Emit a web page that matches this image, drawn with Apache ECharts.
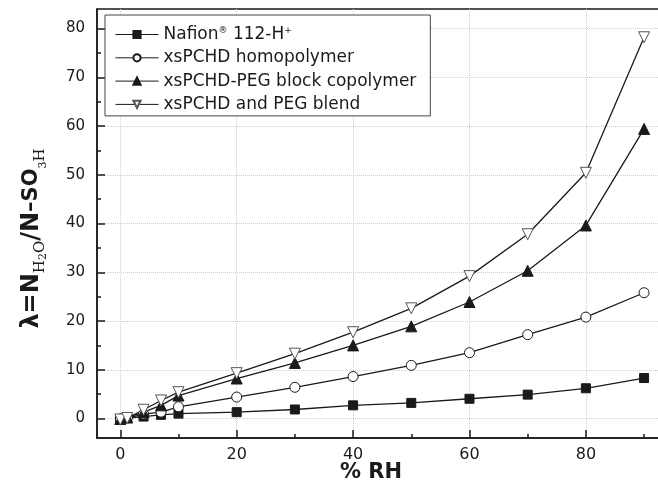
<!DOCTYPE html>
<html><head><meta charset="utf-8">
<script src="https://cdn.jsdelivr.net/npm/echarts@6/dist/echarts.min.js"></script>
<style>html,body{margin:0;padding:0;background:#fff}#c{width:658px;height:492px}</style>
</head><body><div id="c"></div>
<script>
const rh = [0, 1.2, 4, 7, 10, 20, 30, 40, 50, 60, 70, 80, 90];
const nafion = [-0.1, 0.1, 0.4, 0.75, 1.0, 1.3, 1.85, 2.7, 3.2, 4.05, 4.9, 6.2, 8.3];
const homopolymer = [-0.1, 0.1, 0.9, 1.3, 2.4, 4.4, 6.4, 8.6, 10.9, 13.5, 17.2, 20.8, 25.8];
const blockCopolymer = [-0.1, 0.2, 1.3, 2.7, 4.7, 8.2, 11.4, 15.0, 18.9, 23.9, 30.3, 39.6, 59.4];
const blend = [-0.2, 0.1, 1.8, 3.7, 5.4, 9.3, 13.3, 17.7, 22.6, 29.2, 37.8, 50.4, 78.2];
const seriesNames = ['Nafion® 112-H⁺', 'xsPCHD homopolymer', 'xsPCHD-PEG block copolymer', 'xsPCHD and PEG blend'];
const xMajor = [0, 20, 40, 60, 80];
const xMinor = [10, 30, 50, 70, 90];
const yMajor = [0, 10, 20, 30, 40, 50, 60, 70, 80];
const yMinor = [5, 15, 25, 35, 45, 55, 65, 75];

const FONT = 'DejaVu Sans, sans-serif';
const SERIF = 'DejaVu Serif, Liberation Serif, serif';
const INK = '#1a1a1a';
const pair = a => rh.map((x, i) => [x, a[i]]);

const chart = echarts.init(document.getElementById('c'), null, {renderer: 'canvas'});

const baseX = {type: 'value', min: -4, max: 96, gridIndex: 0};
const baseY = {type: 'value', min: -4, max: 84, gridIndex: 0};

function mkSeries(name, data, symbol, size, fill, border) {
  return {
    name, type: 'line', data: pair(data), symbol, symbolSize: size,
    lineStyle: {color: INK, width: 1.3},
    itemStyle: {color: fill, borderColor: border, borderWidth: 1},
    emphasis: {disabled: true}, animation: false, z: 3
  };
}

chart.setOption({
  animation: false,
  backgroundColor: '#fff',
  grid: {left: 97, top: 9, width: 582, height: 429, show: true, borderColor: INK, borderWidth: 1.5, containLabel: false, outerBoundsMode: 'none'},
  legend: {
    left: 105, top: 15, orient: 'vertical',
    itemWidth: 43, itemHeight: 9, itemGap: 6.3,
    padding: [11, 14, 3, 10],
    borderColor: '#444', borderWidth: 1, backgroundColor: '#fff',
    data: seriesNames,
    lineStyle: {width: 1},
    formatter: n => n === seriesNames[0] ? 'Nafion{sup|®} 112-H{sup|+}' : n,
    textStyle: {fontSize: 17, color: INK, fontFamily: FONT, lineHeight: 17,
      rich: {sup: {fontSize: 9, fontFamily: FONT, color: INK, padding: [0, 0, 8, 0], lineHeight: 17}}}
  },
  xAxis: [
    Object.assign({}, baseX, {
      position: 'bottom',
      name: '% RH', nameLocation: 'middle', nameGap: 24, nameMoveOverlap: false,
      nameTextStyle: {fontSize: 21, fontWeight: 'bold', color: INK, fontFamily: FONT, padding: [0, 34, 0, 0]},
      axisLine: {show: true, onZero: false, lineStyle: {color: INK, width: 1.5}},
      axisTick: {show: true, inside: true, length: 8, customValues: xMajor, lineStyle: {color: INK, width: 1.5}},
      axisLabel: {show: true, customValues: xMajor, fontSize: 16, color: INK, fontFamily: FONT, margin: 9},
      splitLine: {show: true, lineStyle: {color: '#cfcfcf', type: 'dotted', width: 1}}
    }),
    Object.assign({}, baseX, {
      position: 'bottom', offset: 0,
      axisLine: {show: false, onZero: false},
      axisTick: {show: true, inside: true, length: 4, customValues: xMinor, lineStyle: {color: INK, width: 1.5}},
      axisLabel: {show: false},
      splitLine: {show: false}
    })
  ],
  yAxis: [
    Object.assign({}, baseY, {
      position: 'left',
      name: '{b|λ=N}{s|H}{ss|2}{s|O}{b|/N}{m|–SO}{ss|3}{s|H}',
      nameLocation: 'middle', nameGap: 48, nameRotate: 90, nameMoveOverlap: false,
      nameTextStyle: {
        color: INK, padding: [0, 30, 0, 0],
        rich: {
          b: {fontSize: 24, fontWeight: 'bold', fontFamily: FONT, color: INK, lineHeight: 34},
          m: {fontSize: 21, fontWeight: 'bold', fontFamily: FONT, color: INK, lineHeight: 34},
          s: {fontSize: 15, fontFamily: SERIF, color: INK, lineHeight: 34, padding: [16, 0, 0, 0]},
          ss: {fontSize: 11, fontFamily: SERIF, color: INK, lineHeight: 34, padding: [22, 0, 0, 0]}
        }
      },
      axisLine: {show: true, onZero: false, lineStyle: {color: INK, width: 1.5}},
      axisTick: {show: true, inside: true, length: 8, customValues: yMajor, lineStyle: {color: INK, width: 1.5}},
      axisLabel: {show: true, customValues: yMajor, fontSize: 15, color: INK, fontFamily: FONT, margin: 12},
      splitLine: {show: true, lineStyle: {color: '#cfcfcf', type: 'dotted', width: 1}}
    }),
    Object.assign({}, baseY, {
      position: 'left', offset: 0,
      axisLine: {show: false, onZero: false},
      axisTick: {show: true, inside: true, length: 4, customValues: yMinor, lineStyle: {color: INK, width: 1.5}},
      axisLabel: {show: false},
      splitLine: {show: false}
    })
  ],
  series: [
    mkSeries(seriesNames[0], nafion, 'rect', 9, INK, INK),
    mkSeries(seriesNames[1], homopolymer, 'circle', 10, '#fff', INK),
    mkSeries(seriesNames[2], blockCopolymer, 'triangle', 11, INK, INK),
    mkSeries(seriesNames[3], blend, 'path://M0,0L10,0L5,8.66Z', 11, '#fff', '#555')
  ]
});
</script>
</body></html>
